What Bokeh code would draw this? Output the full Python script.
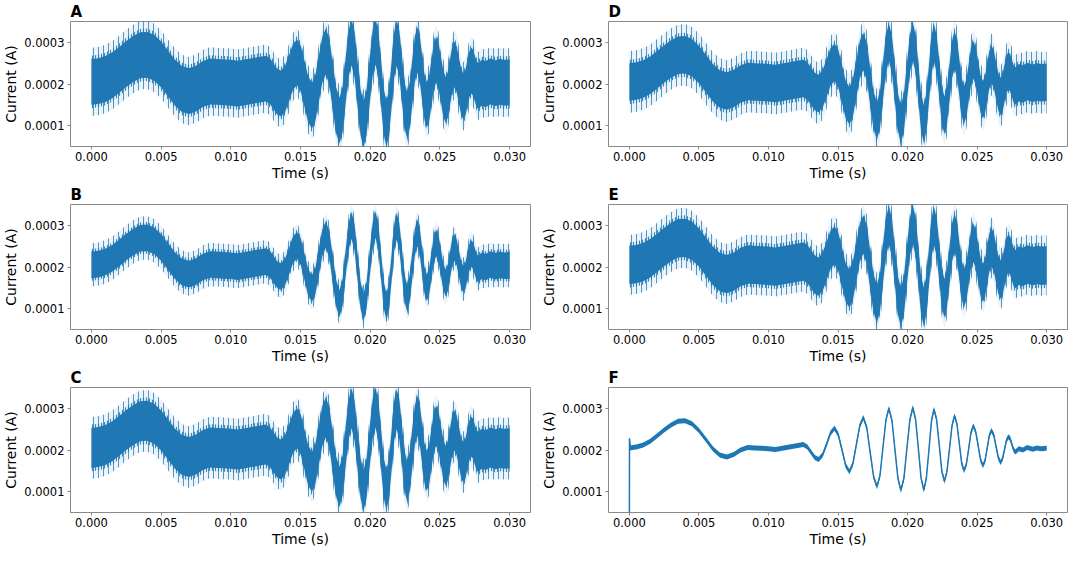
from bokeh.plotting import figure
from bokeh.layouts import column, row
from bokeh.models import FixedTicker, PrintfTickFormatter, Range1d
from bokeh.embed import file_html
from bokeh.resources import INLINE

# ---- data (time in ms, current in microamps) ----
time_ms = [0.0, 0.5, 1.0, 1.5, 2.0, 2.5, 3.0, 3.5, 4.0, 4.5, 5.0, 5.5, 6.0, 6.5, 7.0, 7.5,
           8.0, 8.5, 9.0, 9.5, 10.0, 10.5, 11.0, 11.5, 12.0, 12.5,
           12.78, 13.05, 13.33, 13.6, 13.89, 14.18, 14.46, 14.75,
           15.02, 15.29, 15.55, 15.82, 16.07, 16.32, 16.57, 16.82,
           17.07, 17.31, 17.56, 17.8, 18.02, 18.23, 18.45, 18.66,
           18.88, 19.09, 19.31, 19.52, 19.74, 19.95, 20.17, 20.38,
           20.58, 20.78, 20.97, 21.17, 21.35, 21.54, 21.72, 21.9,
           22.09, 22.28, 22.46, 22.65, 22.83, 23.02, 23.2, 23.38,
           23.55, 23.72, 23.89, 24.06, 24.23, 24.4, 24.56, 24.73,
           24.9, 25.08, 25.25, 25.42, 25.57, 25.73, 25.88, 26.03,
           26.2, 26.36, 26.53, 26.69, 26.83, 26.97, 27.11, 27.25,
           27.38, 27.5, 27.63, 27.75, 28.0, 28.3, 28.6, 29.0, 29.3, 29.6, 30.0]
center_uA = [205, 207, 212, 221, 234, 248, 260, 269, 270, 263, 247, 225, 203, 188, 183, 189,
             200, 206, 205, 204, 203, 201, 204, 207, 210, 213,
             208, 195, 182, 177, 188, 214, 241, 252,
             237, 200, 163, 148, 167, 213, 259, 278,
             254, 195, 136, 112, 139, 206, 273, 300,
             271, 202, 132, 103, 132, 203, 273, 302,
             273, 203, 133, 104, 132, 201, 270, 298,
             273, 212, 150, 125, 148, 204, 259, 282,
             263, 216, 169, 150, 166, 204, 242, 258,
             244, 210, 176, 162, 174, 205, 235, 247,
             236, 209, 181, 170, 179, 201, 223, 232,
             227, 214, 200, 195, 203, 200, 206, 202, 205, 203, 204]
f_head_ms = [0.0, 0.01, 0.08, 0.25]
f_head_uA = [10, 228, 203, 208]

panel_letters = ["A", "B", "C", "D", "E", "F"]
# half-widths of the noise: dense core, middle spikes, outer spikes
noise_core_uA = {"A": 55, "B": 32, "C": 48, "D": 45, "E": 46, "F": 6}
noise_mid_uA = {"A": 63, "B": 38, "C": 56, "D": 53, "E": 54, "F": 0}
noise_spike_uA = {"A": 82, "B": 52, "C": 74, "D": 74, "E": 72, "F": 0}

x_ticks_s = [0.0, 0.005, 0.010, 0.015, 0.020, 0.025, 0.030]
y_ticks_A = [0.0001, 0.0002, 0.0003]
x_limits_s = (-0.0015, 0.0315)
y_limits_A = (0.00005, 0.00035)

BLUE = "#1f77b4"
FONT = "DejaVu Sans"
GREY = "#8a8a8a"


def make_panel(letter, width, height, left, right):
    p = figure(width=width, height=height, output_backend="svg", toolbar_location=None,
               x_range=Range1d(*x_limits_s), y_range=Range1d(*y_limits_A),
               min_border_left=left, min_border_right=right,
               min_border_top=0, min_border_bottom=0)
    p.grid.visible = False
    p.outline_line_color = GREY
    p.outline_line_width = 1
    p.background_fill_color = "white"
    p.border_fill_color = "white"

    p.title.text = letter
    p.title.align = "left"
    p.title.offset = 0
    p.title.standoff = 1
    p.title.text_font = FONT
    p.title.text_font_size = "15px"
    p.title.text_font_style = "bold"
    p.title.text_color = "#000000"

    t = [v / 1000.0 for v in time_ms]
    core = noise_core_uA[letter]
    mid = noise_mid_uA[letter]
    spike = noise_spike_uA[letter]
    if spike > 0:
        p.varea(x=t, y1=[(c - spike) * 1e-6 for c in center_uA],
                y2=[(c + spike) * 1e-6 for c in center_uA],
                fill_color=BLUE, fill_alpha=0.08,
                hatch_pattern="vertical_line", hatch_color=BLUE,
                hatch_alpha=0.75, hatch_weight=1, hatch_scale=5)
        p.varea(x=t, y1=[(c - mid) * 1e-6 for c in center_uA],
                y2=[(c + mid) * 1e-6 for c in center_uA],
                fill_color=BLUE, fill_alpha=0.10,
                hatch_pattern="vertical_line", hatch_color=BLUE,
                hatch_alpha=0.85, hatch_weight=1, hatch_scale=3)
    p.varea(x=t, y1=[(c - core) * 1e-6 for c in center_uA],
            y2=[(c + core) * 1e-6 for c in center_uA],
            fill_color=BLUE, fill_alpha=1.0)
    if letter == "F":
        ft = [v / 1000.0 for v in f_head_ms] + t[1:]
        fv = [v * 1e-6 for v in f_head_uA] + [c * 1e-6 for c in center_uA[1:]]
        p.line(x=ft, y=fv, line_color=BLUE, line_width=1.5)

    for ax in (p.xaxis[0], p.yaxis[0]):
        ax.axis_line_color = None
        ax.major_tick_line_color = GREY
        ax.major_tick_out = 3
        ax.major_tick_in = 0
        ax.minor_tick_line_color = None
        ax.major_label_text_font = FONT
        ax.major_label_text_font_size = "11.5px"
        ax.major_label_text_color = "#000000"
        ax.major_label_standoff = 3
        ax.axis_label_text_font = FONT
        ax.axis_label_text_font_size = "14px"
        ax.axis_label_text_font_style = "normal"
        ax.axis_label_text_color = "#000000"
        ax.axis_label_standoff = 2
    p.xaxis[0].major_label_standoff = 2
    p.xaxis[0].axis_label_standoff = 1
    p.xaxis[0].ticker = FixedTicker(ticks=x_ticks_s)
    p.xaxis[0].formatter = PrintfTickFormatter(format="%.3f")
    p.yaxis[0].ticker = FixedTicker(ticks=y_ticks_A)
    p.yaxis[0].formatter = PrintfTickFormatter(format="%.4f")
    p.xaxis[0].axis_label = "Time (s)"
    p.yaxis[0].axis_label = "Current (A)"
    return p


grid = [["A", "D"], ["B", "E"], ["C", "F"]]
rows = []
for pair in grid:
    left_p = make_panel(pair[0], 538, 183, 64, 8)
    right_p = make_panel(pair[1], 530, 183, 67, 1)
    rows.append(row(left_p, right_p, spacing=0))
layout = column(*rows, spacing=0)

open("out.html", "w").write(file_html(layout, INLINE))
